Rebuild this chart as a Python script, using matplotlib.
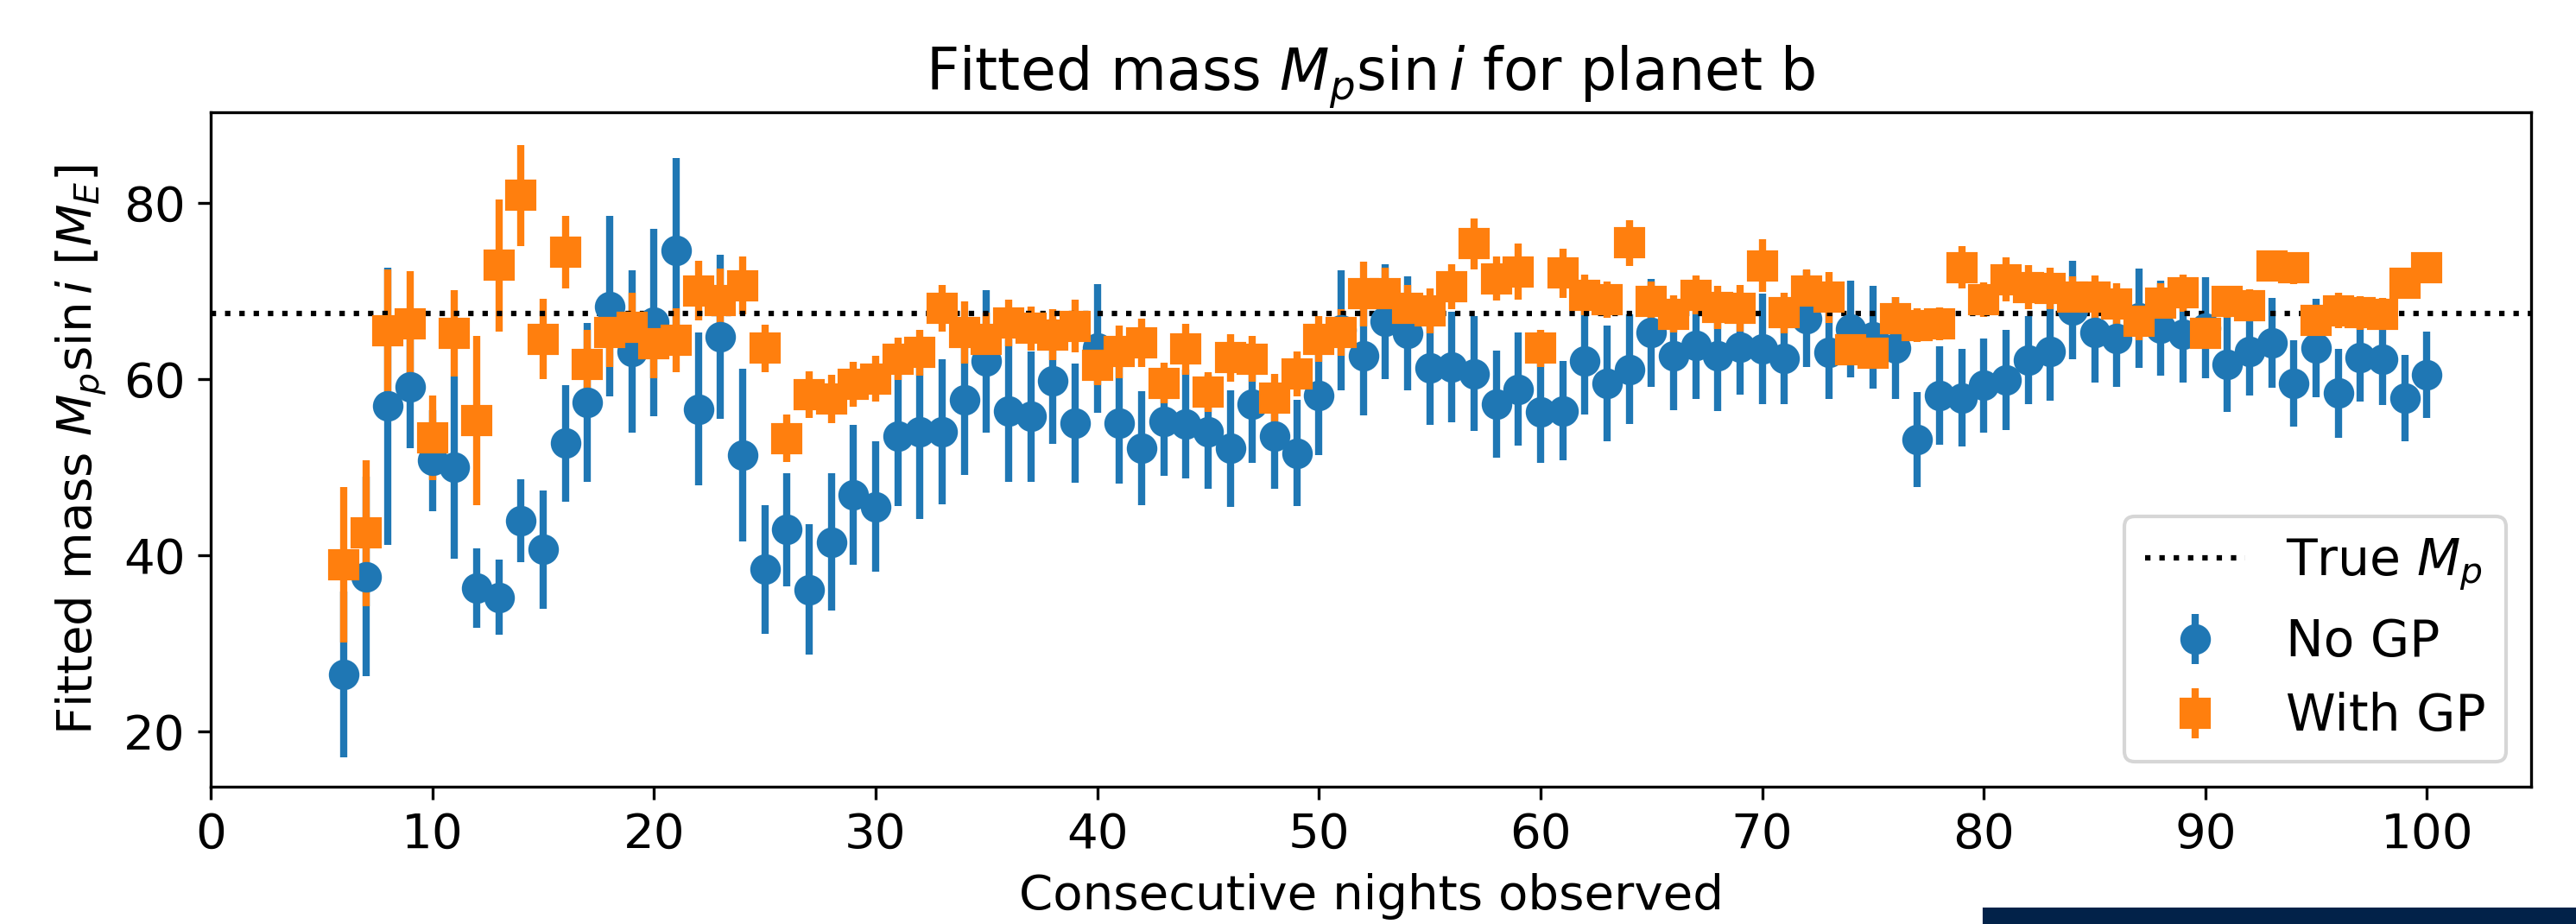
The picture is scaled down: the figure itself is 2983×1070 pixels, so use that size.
import numpy as np
import matplotlib
matplotlib.use("Agg")
import matplotlib.pyplot as plt
from matplotlib.patches import Rectangle

nights = list(range(6, 101))

mass_nogp = [26.5, 37.6, 56.9, 59.1, 50.75, 49.95, 36.25, 35.25, 43.9, 40.65,
             52.7, 57.35, 68.25, 63.15, 66.4, 74.6, 56.6, 64.75, 51.4, 38.4,
             42.9, 36.1, 41.5, 46.85, 45.5, 53.5, 54.0, 54.0, 57.65, 62.0,
             56.4, 55.75, 59.75, 55.0, 63.5, 55.0, 52.15, 55.15, 54.9, 54.0,
             52.1, 57.1, 53.5, 51.6, 58.15, 65.55, 62.65, 66.5, 65.15, 61.25,
             61.35, 60.6, 57.15, 58.85, 56.25, 56.4, 62.0, 59.5, 61.1, 65.25,
             62.65, 63.85, 62.6, 63.6, 63.4, 62.35, 66.85, 63.0, 65.65, 64.75,
             63.5, 53.15, 58.15, 57.85, 59.25, 59.9, 62.1, 63.1, 67.85, 65.25,
             64.6, 66.9, 65.75, 65.1, 65.8, 61.65, 63.1, 64.1, 59.5, 63.5,
             58.4, 62.4, 62.25, 57.85, 60.5]
err_nogp = [9.4, 11.3, 15.7, 7.0, 5.75, 10.3, 4.5, 4.3, 4.7, 6.7,
            6.6, 9.0, 10.2, 9.2, 10.6, 10.5, 8.65, 9.3, 9.8, 7.3,
            6.45, 7.4, 7.8, 7.9, 7.4, 7.9, 9.9, 8.25, 8.5, 8.1,
            8.05, 7.4, 7.1, 6.75, 7.3, 6.85, 6.5, 6.15, 6.2, 6.5,
            6.65, 6.6, 6.0, 6.0, 6.75, 6.8, 6.8, 6.5, 6.45, 6.5,
            6.25, 6.5, 6.05, 6.4, 5.75, 5.6, 6.0, 6.55, 6.2, 6.1,
            6.15, 6.1, 6.2, 5.35, 6.3, 5.25, 5.5, 5.25, 5.5, 5.85,
            5.75, 5.4, 5.6, 5.55, 5.3, 5.7, 5.0, 5.6, 5.6, 5.65,
            5.45, 5.6, 5.4, 5.5, 5.7, 5.4, 5.0, 5.1, 4.9, 5.55,
            5.05, 5.0, 5.25, 4.9, 4.9]

mass_gp = [38.9, 42.5, 65.5, 66.25, 53.35, 65.15, 55.25, 72.9, 80.8, 64.5,
           74.35, 61.6, 65.25, 65.85, 64.0, 64.4, 70.0, 68.9, 70.6, 63.5,
           53.25, 58.25, 57.75, 59.35, 60.0, 62.25, 63.0, 68.0, 65.25, 64.5,
           66.35, 65.75, 65.0, 66.0, 61.55, 63.1, 64.1, 59.5, 63.4, 58.5,
           62.4, 62.25, 57.85, 60.6, 64.5, 65.25, 69.65, 69.65, 68.0, 67.75,
           70.5, 75.35, 71.35, 72.15, 63.5, 72.0, 69.5, 69.0, 75.45, 68.75,
           67.35, 69.5, 68.15, 68.0, 72.85, 67.5, 70.0, 69.25, 63.35, 62.9,
           66.85, 66.1, 66.25, 72.65, 69.0, 71.25, 70.4, 70.25, 69.25, 69.25,
           68.5, 66.5, 68.6, 69.75, 65.2, 68.75, 68.35, 72.85, 72.6, 66.65,
           67.75, 67.5, 67.35, 70.85, 72.65]
err_gp = [8.8, 8.3, 6.9, 6.0, 4.8, 4.9, 9.6, 7.5, 5.7, 4.55,
          4.1, 4.0, 3.9, 3.9, 3.9, 3.6, 3.4, 3.6, 3.3, 2.7,
          2.7, 2.65, 2.75, 2.55, 2.6, 2.4, 2.6, 2.65, 3.55, 3.0,
          2.6, 2.5, 2.9, 3.0, 2.3, 3.0, 2.75, 2.3, 2.9, 2.25,
          2.7, 2.6, 2.7, 2.55, 2.6, 2.65, 3.7, 3.0, 2.65, 2.55,
          2.55, 2.9, 2.5, 3.2, 2.1, 2.8, 2.3, 2.1, 2.6, 2.3,
          2.1, 2.2, 2.45, 2.65, 3.0, 2.3, 2.4, 2.9, 1.6, 1.6,
          2.4, 1.9, 1.9, 2.4, 2.0, 2.5, 2.5, 2.35, 2.4, 2.5,
          2.35, 2.15, 2.3, 2.1, 1.6, 1.8, 1.8, 1.75, 1.8, 1.75,
          2.0, 1.9, 1.8, 1.65, 1.7]

true_mass = 67.4

plt.rcParams['font.size'] = 13.5

fig = plt.figure(figsize=(2983 / 300, 1070 / 300), dpi=300)
ax = fig.add_axes([0.0818, 0.1486, 0.9008, 0.7299])

ax.errorbar(nights, mass_nogp, yerr=err_nogp, fmt='o', ms=7.5, elinewidth=2,
            color='#1f77b4', label='No GP')
ax.errorbar(nights, mass_gp, yerr=err_gp, fmt='s', ms=7.5, elinewidth=2,
            color='#ff7f0e', label='With GP')
ax.axhline(true_mass, color='k', ls=':', lw=1.5, label=r'True $M_p$')

ax.set_xlim(0, 104.7)
ax.set_ylim(13.75, 90.25)
ax.set_xticks(np.arange(0, 101, 10))
ax.set_yticks([20, 40, 60, 80])
ax.set_title(r'Fitted mass $M_p \sin i$ for planet b', fontsize=16)
ax.set_xlabel('Consecutive nights observed')
ax.set_ylabel(r'Fitted mass $M_p \sin i$ [$M_E$]')
ax.legend(loc='lower right', fontsize=14)

# dark strip at the bottom right edge of the picture
fig.patches.append(Rectangle((2298 / 2983, 0), 1 - 2298 / 2983, 17 / 1070,
                             transform=fig.transFigure, color='#022249',
                             zorder=10))

fig.savefig('out.png', dpi=300)
